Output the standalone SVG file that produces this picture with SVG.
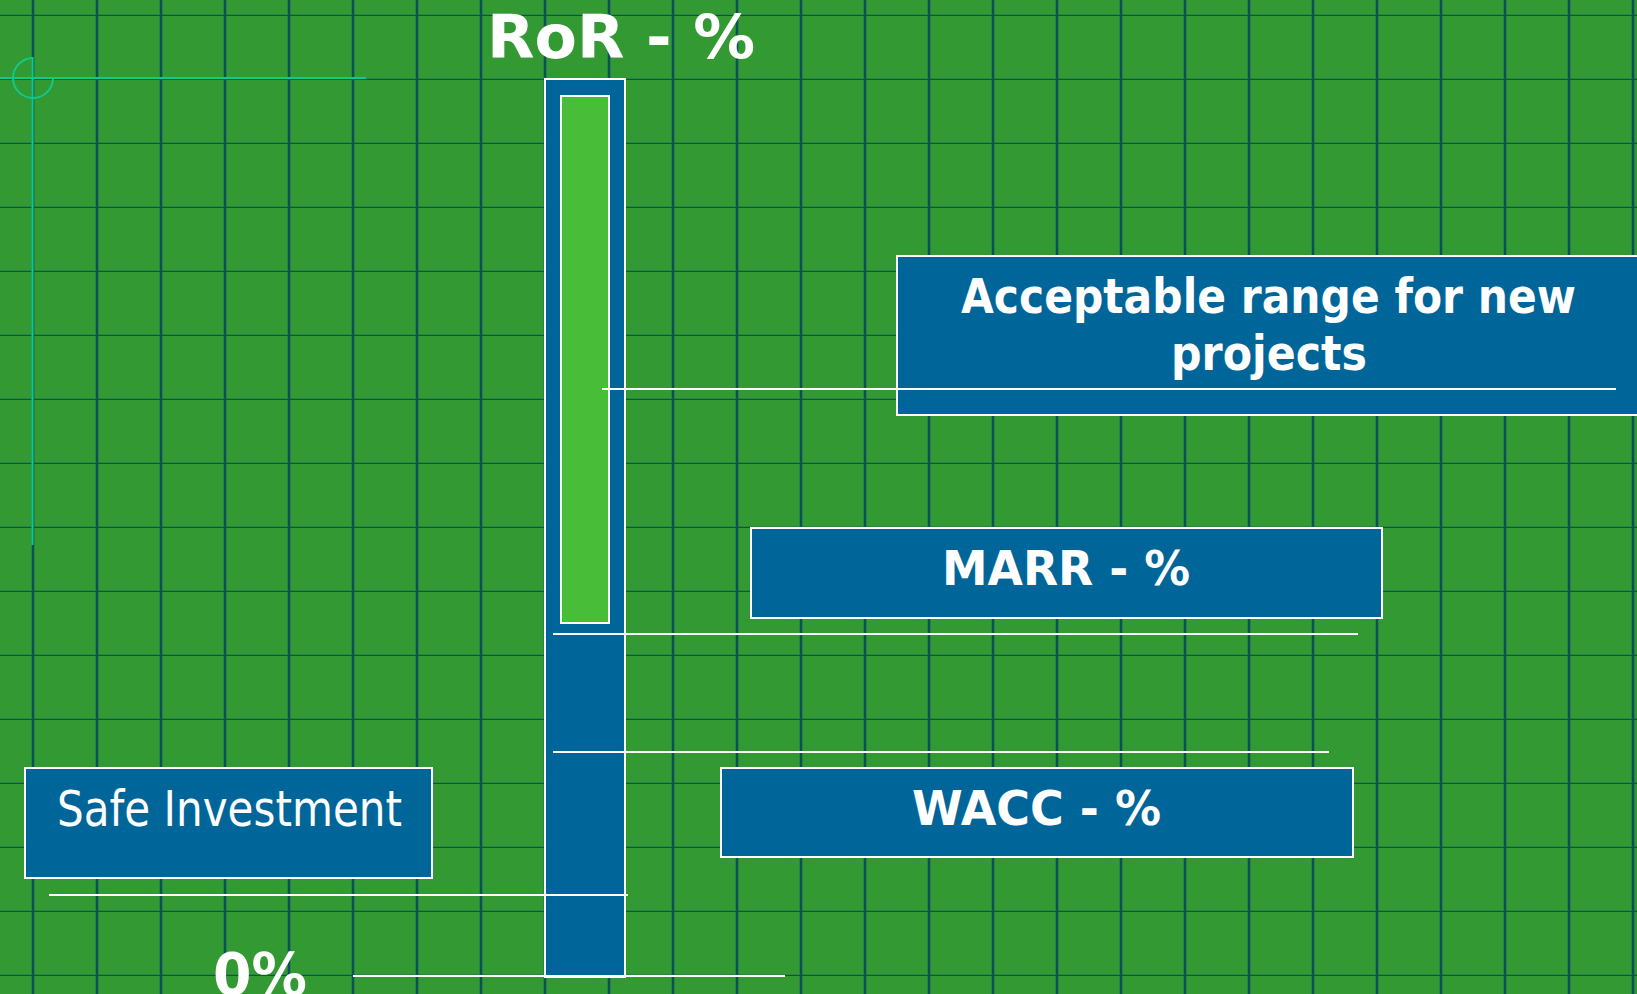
<svg xmlns="http://www.w3.org/2000/svg" width="1637" height="994" viewBox="0 0 1637 994">
  <defs>
    <pattern id="grid" patternUnits="userSpaceOnUse" x="1" y="-48" width="64" height="64">
      <path d="M32 0V64M0 64H64" fill="none" stroke="#0a5258" stroke-width="2.6"/>
    </pattern>
  </defs>
  <style>
    .box { fill: #006699; stroke: #ffffff; stroke-width: 2; }
    .lead { stroke: #ffffff; stroke-width: 2; fill: none; }
    .guide { stroke: #12c98c; stroke-width: 2; fill: none; }
    .bold { font-family: "DejaVu Sans", "Liberation Sans", sans-serif; font-weight: bold; fill: #ffffff; }
    .reg { font-family: "DejaVu Sans", "Liberation Sans", sans-serif; fill: #ffffff; }
  </style>

  <!-- background and grid -->
  <rect x="0" y="0" width="1637" height="994" fill="#339933"/>
  <rect x="0" y="0" width="1637" height="994" fill="url(#grid)"/>

  <!-- guide cross with arc -->
  <g id="guide">
    <line class="guide" x1="0" y1="78" x2="366" y2="78"/>
    <line class="guide" x1="32.5" y1="57" x2="32.5" y2="545"/>
    <path class="guide" d="M33 58A20 20 0 1 0 53 78"/>
  </g>

  <!-- axis title -->
  <g id="title">
    <text class="bold" x="487" y="58" font-size="60" textLength="268" lengthAdjust="spacingAndGlyphs">RoR - %</text>
  </g>

  <!-- rate bar -->
  <g id="bar">
    <rect class="box" x="545" y="79" width="80" height="898"/>
    <rect x="561" y="96" width="48" height="527" fill="#48bd38" stroke="#ffffff" stroke-width="2"/>
  </g>

  <!-- labels -->
  <g id="acceptable">
    <rect class="box" x="897" y="256" width="750" height="159"/>
    <text class="bold" x="961" y="313" font-size="48" textLength="615" lengthAdjust="spacingAndGlyphs">Acceptable range for new</text>
    <text class="bold" x="1171" y="370" font-size="48" textLength="196" lengthAdjust="spacingAndGlyphs">projects</text>
  </g>

  <g id="marr">
    <rect class="box" x="751" y="528" width="631" height="90"/>
    <text class="bold" x="942" y="585" font-size="48" textLength="248" lengthAdjust="spacingAndGlyphs">MARR - %</text>
  </g>

  <g id="wacc">
    <rect class="box" x="721" y="768" width="632" height="89"/>
    <text class="bold" x="912" y="825" font-size="48" textLength="249" lengthAdjust="spacingAndGlyphs">WACC - %</text>
  </g>

  <g id="safe">
    <rect class="box" x="25" y="768" width="407" height="110"/>
    <text class="reg" x="57" y="826" font-size="49" textLength="345" lengthAdjust="spacingAndGlyphs">Safe Investment</text>
  </g>

  <g id="zero">
    <text class="bold" x="213" y="995" font-size="58" textLength="94" lengthAdjust="spacingAndGlyphs">0%</text>
  </g>

  <!-- level lines -->
  <g id="connectors">
    <line class="lead" x1="602" y1="389" x2="1616" y2="389"/>
    <line class="lead" x1="553" y1="634" x2="1358" y2="634"/>
    <line class="lead" x1="553" y1="752" x2="1329" y2="752"/>
    <line class="lead" x1="49" y1="895" x2="628" y2="895"/>
    <line class="lead" x1="353" y1="976" x2="785" y2="976"/>
  </g>
</svg>
